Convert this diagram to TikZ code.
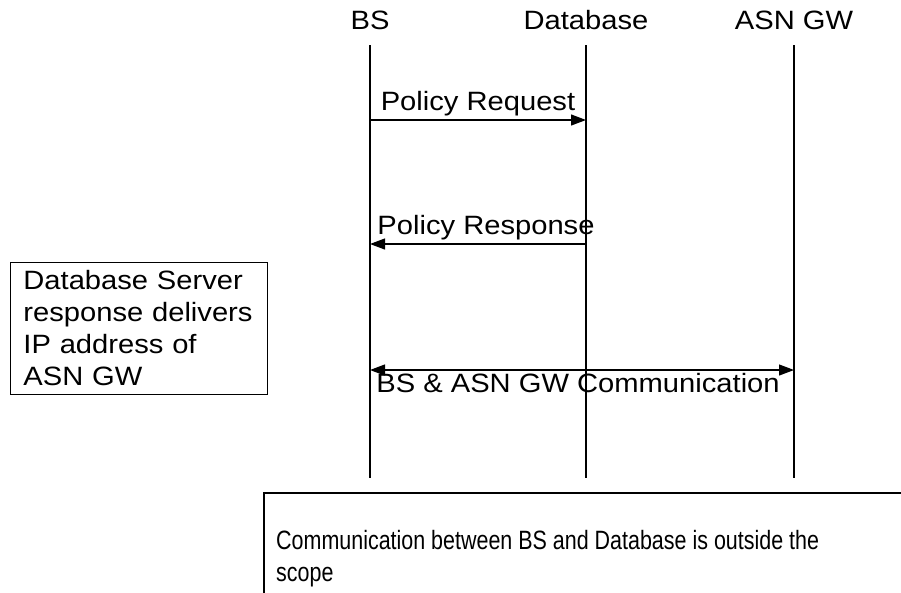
\documentclass[tikz,border=0pt]{standalone}
\usepackage{fontspec}
\setmainfont{Liberation Sans}[FakeStretch=1.1]
\newfontfamily\narrowfont{Liberation Sans}[FakeStretch=0.81]
\usetikzlibrary{arrows.meta}

\tikzset{
    every node/.style={font=\fontsize{26.5}{32}\selectfont, inner sep=2pt},
    lifeline/.style={line width=1.8pt},
    msg/.style={line width=1.2pt, -{Triangle[length=15pt,width=11pt]}},
    msgboth/.style={line width=1.2pt, {Triangle[length=15pt,width=11pt]}-{Triangle[length=15pt,width=11pt]}},
    notebox/.style={draw, line width=0.8pt, align=left, inner xsep=13pt},
    scopetext/.style={anchor=base west, font=\narrowfont\fontsize{26.5}{32}\selectfont}
}

\begin{document}
\begin{tikzpicture}[x=1pt, y=-1pt]
        \useasboundingbox (0, 0) rectangle (901, 592);

        \newcommand{\lifetop}{45}
        \newcommand{\lifebot}{478}

        \node (bs) at (370, 20) {BS};
        \node (db) at (586, 20) {Database};
        \node (gw) at (794, 20) {ASN GW};

        \foreach \name/\xpos in {bs/370, db/586, gw/794} {
            \coordinate (\name-top) at (\xpos, \lifetop);
            \coordinate (\name-bot) at (\xpos, \lifebot);
            \draw [lifeline] (\name-top) -- (\name-bot);
        }

        \coordinate (req) at (0, 120);
        \coordinate (resp) at (0, 244);
        \coordinate (comm) at (0, 370);

        \draw [msg] (bs-top|-req) -- node [above=1pt] {Policy Request} (db-top|-req);
        \draw [msg] (db-top|-resp) -- node [above=1pt, xshift=8pt] {Policy Response} (bs-top|-resp);
        \draw [msgboth] (bs-top|-comm) -- node [below=1pt, xshift=-4pt] {BS \& ASN GW Communication} (gw-top|-comm);

        \node [notebox, anchor=north west, text width=231pt, minimum height=132pt] (dbnote) at (10, 262)
            {Database Server\\response delivers\\IP address of\\ASN GW};

        % scope note, cut by the page edge
        \draw [line width=1.2pt] (264, 600) -- (264, 493) -- (910, 493);
        \node [scopetext] (scopenote) at (274, 549)
            {Communication between BS and Database is outside the};
        \node [scopetext] (scopenote2) at (274, 581) {scope};

    \end{tikzpicture}
\end{document}
